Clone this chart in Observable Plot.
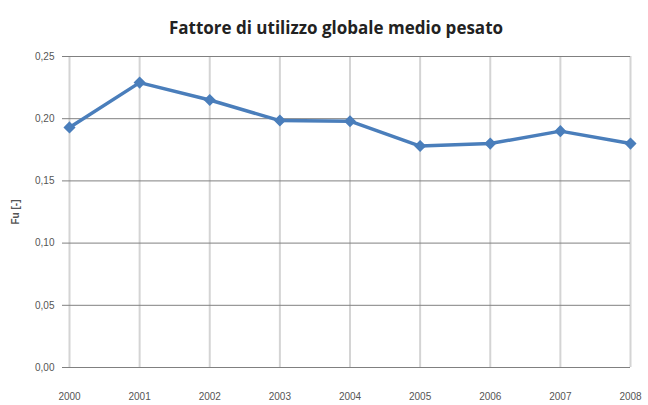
<!DOCTYPE html>
<html><head><meta charset="utf-8">
<script src="https://cdn.jsdelivr.net/npm/d3@7"></script>
<script src="https://cdn.jsdelivr.net/npm/@observablehq/plot@0.6"></script>
<style>
body{margin:0;background:#fff;width:648px;height:405px;overflow:hidden;}
#title{height:45px;line-height:56px;text-align:center;font-family:"Liberation Sans Narrow","Open Sans",sans-serif;font-weight:bold;font-size:17px;color:#222;padding-left:24px;box-sizing:border-box;}
svg{display:block;}
svg g[aria-label="y-axis label"] text{font-weight:bold;}
</style></head><body>
<div id="title">Fattore di utilizzo globale medio pesato</div>
<div id="chart"></div>
<script>
const years = [2000, 2001, 2002, 2003, 2004, 2005, 2006, 2007, 2008];
const fu = [0.193, 0.229, 0.215, 0.1985, 0.198, 0.178, 0.180, 0.190, 0.180];
const yTicks = [0, 0.05, 0.10, 0.15, 0.20, 0.25];
const yLabels = ["0,00", "0,05", "0,10", "0,15", "0,20", "0,25"];
const data = years.map((y, i) => ({year: y, fu: fu[i]}));
const fmt = d => yLabels[yTicks.findIndex(t => Math.abs(t - d) < 1e-9)];
const blue = "#4a7ebb";
const chart = Plot.plot({
  width: 648, height: 360,
  marginTop: 11, marginBottom: 38, marginLeft: 69, marginRight: 18,
  style: {fontFamily: "'Liberation Sans Narrow', sans-serif", fontSize: "10px", color: "#555", background: "#fff"},
  x: {domain: [2000, 2008], ticks: years, tickFormat: d => String(d), tickSize: 0, tickPadding: 25, label: null},
  y: {domain: [0, 0.25], ticks: yTicks, tickFormat: fmt, tickSize: 0, tickPadding: 15, label: "Fu [-]", labelAnchor: "center", labelArrow: "none", labelOffset: 58},
  marks: [
    Plot.ruleX(years, {stroke: "#d4d4d4", strokeWidth: 2}),
    Plot.ruleY(yTicks, {x1: 1999.9, x2: 2008, stroke: "#808080", strokeWidth: 1}),
    Plot.line(data, {x: "year", y: "fu", stroke: blue, strokeWidth: 3.5}),
    Plot.dot(data, {x: "year", y: "fu", symbol: "diamond2", r: 4.5, fill: blue, stroke: blue})
  ]
});
document.getElementById("chart").append(chart);
</script>
</body></html>
